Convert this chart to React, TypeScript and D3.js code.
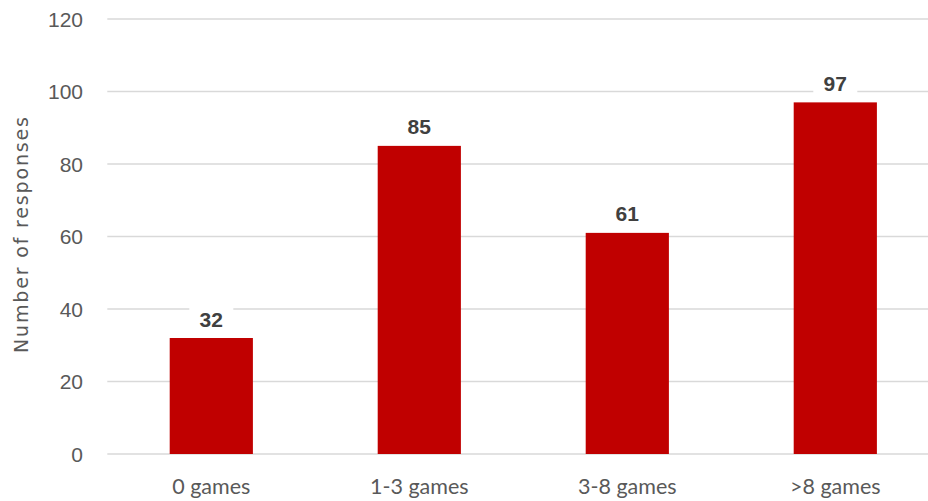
import React from "react";
import * as d3 from "d3";

const categories = ["0 games", "1-3 games", "3-8 games", ">8 games"];
const values = [32, 85, 61, 97];
const yTicks = [0, 20, 40, 60, 80, 100, 120];
const yTitle = "Number of responses";

export default function App() {
  const W = 928, H = 501;
  const left = 107.3, right = 939.3, top = 19, bottom = 454;
  const x = d3.scaleBand<string>().domain(categories).range([left, right]).paddingInner(0.6).paddingOuter(0.3);
  const y = d3.scaleLinear().domain([0, 120]).range([bottom, top]);
  const tickFont = "'Liberation Sans', Arial, sans-serif";
  const catFont = "Lato, 'Open Sans', sans-serif";
  return (
    <svg width={W} height={H} style={{ position: "absolute", left: 0, top: 0, background: "#fff" }}>
      {yTicks.map((t) => (
        <g key={t}>
          <line x1={left} x2={W} y1={y(t)} y2={y(t)} stroke="#D9D9D9" strokeWidth={1.6} />
          <text x={83} y={y(t)} dy="0.36em" textAnchor="end" fontFamily={tickFont} fontSize={21} fill="#595959">
            {t}
          </text>
        </g>
      ))}
      {categories.map((c, i) => {
        const bx = x(c)!;
        const bw = x.bandwidth();
        const cx = bx + bw / 2;
        const ly = y(values[i]) - 19;
        return (
          <g key={c}>
            <rect x={bx} y={y(values[i])} width={bw} height={bottom - y(values[i])} fill="#C00000" />
            <rect x={cx - 22} y={ly - 12} width={44} height={24} fill="#fff" />
            <text x={cx} y={ly} dy="0.36em" textAnchor="middle" fontFamily={tickFont} fontSize={21} fontWeight="bold" fill="#404040">
              {values[i]}
            </text>
            <text x={cx} y={486} dy="0.36em" textAnchor="middle" fontFamily={catFont} fontSize={21.5} fill="#595959">
              {c}
            </text>
          </g>
        );
      })}
      <text transform={`translate(21,235) rotate(-90)`} dy="0.36em" textAnchor="middle" fontFamily="'DejaVu Sans', sans-serif" fontSize={19} fill="#595959" textLength={236} lengthAdjust="spacing">
        {yTitle}
      </text>
    </svg>
  );
}
